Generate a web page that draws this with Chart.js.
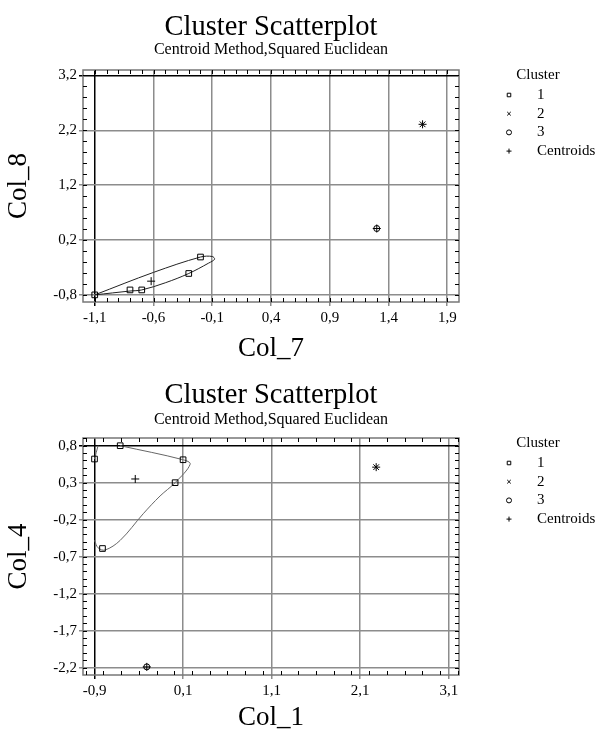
<!DOCTYPE html>
<html>
<head>
<meta charset="utf-8">
<title>Cluster Scatterplot</title>
<script src="https://cdn.jsdelivr.net/npm/chart.js@4.4.1/dist/chart.umd.min.js"></script>
<style>
  body { margin: 0; background: #fff; }
  canvas { display: block; }
</style>
</head>
<body>
<canvas id="plotTop" width="602" height="365"></canvas>
<canvas id="plotBottom" width="602" height="365"></canvas>
<script>
'use strict';

// top plot: Col_7 / Col_8
const topCluster1X = [-1.1, -0.8, -0.7, -0.3, -0.2];
const topCluster1Y = [-0.8, -0.71, -0.71, -0.41, -0.11];
const topCluster2X = [1.69];
const topCluster2Y = [2.31];
const topCluster3X = [1.30];
const topCluster3Y = [0.41];
const topCentroidX = [-0.62, 1.69, 1.30];
const topCentroidY = [-0.55, 2.31, 0.41];
const topOutlineX = [-1.1, -0.6, -0.2, -0.1, -0.08, -0.13, -0.3, -0.5, -0.7, -0.8, -1.1];
const topOutlineY = [-0.8, -0.39, -0.11, -0.1, -0.15, -0.22, -0.41, -0.58, -0.71, -0.73, -0.8];
const topXTicks = [-1.1, -0.6, -0.1, 0.4, 0.9, 1.4, 1.9];
const topYTicks = [-0.8, 0.2, 1.2, 2.2, 3.2];

// bottom plot: Col_1 / Col_4
const botCluster1X = [-0.9, -0.61, 0.1, 0.01, -0.81];
const botCluster1Y = [0.62, 0.8, 0.61, 0.3, -0.59];
const botCluster2X = [2.28];
const botCluster2Y = [0.51];
const botCluster3X = [-0.31];
const botCluster3Y = [-2.19];
const botCentroidX = [-0.44, 2.28, -0.31];
const botCentroidY = [0.35, 0.51, -2.19];
const botOutlineX = [-0.9, -0.86, -0.78, -0.61, -0.35, -0.16, 0.01, 0.18, 0.1, -0.61, -0.73, -0.86, -0.9];
const botOutlineY = [-0.48, -0.58, -0.61, -0.48, -0.12, 0.12, 0.3, 0.55, 0.61, 0.8, null, 0.8, 0.62];
const botXTicks = [-0.9, 0.1, 1.1, 2.1, 3.1];
const botYTicks = [-2.2, -1.7, -1.2, -0.7, -0.2, 0.3, 0.8];

const serif = "'Liberation Serif', 'Times New Roman', serif";

function pairs(xs, ys) {
    return xs.map((x, i) => ({ x: x, y: ys[i] }));
}

function comma(v) {
    return v.toFixed(1).replace('.', ',');
}

// box round the plot and the small inward ticks on all four sides
const plotFrame = {
    id: 'plotFrame',
    afterDatasetsDraw(chart, args, o) {
        const { ctx, chartArea: a, scales } = chart;
        ctx.save();
        ctx.strokeStyle = '#777';
        ctx.lineWidth = 1.5;
        ctx.strokeRect(a.left, a.top, a.right - a.left, a.bottom - a.top);
        ctx.strokeStyle = '#000';
        ctx.lineWidth = 1;
        ctx.beginPath();
        for (let v = Math.ceil(scales.x.min / o.xStep) * o.xStep; v <= scales.x.max; v += o.xStep) {
            const px = Math.round(scales.x.getPixelForValue(v)) + 0.5;
            ctx.moveTo(px, a.bottom); ctx.lineTo(px, a.bottom - 4);
            ctx.moveTo(px, a.top); ctx.lineTo(px, a.top + 4);
        }
        for (let v = Math.ceil(scales.y.min / o.yStep) * o.yStep; v <= scales.y.max; v += o.yStep) {
            const py = Math.round(scales.y.getPixelForValue(v)) + 0.5;
            ctx.moveTo(a.left, py); ctx.lineTo(a.left + 4, py);
            ctx.moveTo(a.right, py); ctx.lineTo(a.right - 4, py);
        }
        ctx.stroke();
        ctx.restore();
    }
};

// the key at the right, built from the marker datasets
const clusterKey = {
    id: 'clusterKey',
    afterDraw(chart, args, o) {
        const { ctx, chartArea: a } = chart;
        ctx.save();
        ctx.font = o.size + 'px ' + serif;
        ctx.textBaseline = 'middle';
        ctx.fillStyle = '#000';
        ctx.textAlign = 'center';
        ctx.fillText('Cluster', a.right + 79, a.top + 5);
        ctx.textAlign = 'left';
        chart.data.datasets.filter(d => !d.showLine).forEach((d, i) => {
            const y = a.top + 25 + i * 18.7;
            ctx.strokeStyle = '#000';
            ctx.fillStyle = 'rgba(0,0,0,0)';
            ctx.lineWidth = 1;
            Chart.helpers.drawPoint(ctx, { pointStyle: d.pointStyle, radius: 2.5, rotation: 0, borderWidth: 1 }, a.right + 50, y);
            ctx.fillStyle = '#000';
            ctx.fillText(d.label, a.right + 78, y);
        });
        ctx.restore();
    }
};

function gridColor(ctx, darkIndex) {
    return ctx.index === darkIndex ? '#000' : '#8c8c8c';
}

function clusterChart(id, d) {
    const marker = { borderColor: '#000', backgroundColor: 'rgba(0,0,0,0)', borderWidth: 1 };
    return new Chart(document.getElementById(id), {
        type: 'scatter',
        data: {
            datasets: [
                Object.assign({ label: '1', data: pairs(d.c1x, d.c1y), pointStyle: 'rect', pointRadius: 4 }, marker),
                Object.assign({ label: '2', data: pairs(d.c2x, d.c2y), pointStyle: 'crossRot', pointRadius: 4 }, marker),
                Object.assign({ label: '3', data: pairs(d.c3x, d.c3y), pointStyle: 'circle', pointRadius: 3 }, marker),
                Object.assign({ label: 'Centroids', data: pairs(d.cx, d.cy), pointStyle: 'cross', pointRadius: 4 }, marker),
                {
                    label: 'outline', data: pairs(d.ox, d.oy), showLine: true, pointRadius: 0,
                    borderColor: d.lineColor, borderWidth: 1, tension: 0.35, spanGaps: false
                }
            ]
        },
        options: {
            responsive: false,
            animation: false,
            layout: { padding: { right: 143 } },
            plugins: {
                legend: { display: false },
                tooltip: { enabled: false },
                title: {
                    display: true, fullSize: false, text: 'Cluster Scatterplot', color: '#000',
                    font: { family: serif, size: 28.5, weight: 'normal', lineHeight: 1 },
                    padding: { top: d.titleTop, bottom: 0 }
                },
                subtitle: {
                    display: true, fullSize: false, text: 'Centroid Method,Squared Euclidean', color: '#000',
                    font: { family: serif, size: 16, weight: 'normal', lineHeight: 1 },
                    padding: { top: d.subTop, bottom: d.subBottom }
                },
                plotFrame: { xStep: d.xStep, yStep: d.yStep },
                clusterKey: { size: 15 }
            },
            scales: {
                x: {
                    type: 'linear', min: d.xMin, max: d.xMax,
                    afterBuildTicks: s => { s.ticks = d.xTicks.map(v => ({ value: v })); },
                    afterFit: s => { s.height = d.xHeight; },
                    border: { display: false },
                    grid: { color: c => gridColor(c, 0), lineWidth: 1.5, tickLength: 4 },
                    ticks: { color: '#000', font: { family: serif, size: 15 }, padding: 3, maxRotation: 0, callback: comma },
                    title: {
                        display: true, text: d.xTitle, color: '#000',
                        font: { family: serif, size: 27, lineHeight: 1 }, padding: { top: 0, bottom: d.xTitleBottom }
                    }
                },
                y: {
                    type: 'linear', min: d.yMin, max: d.yMax,
                    afterBuildTicks: s => { s.ticks = d.yTicks.map(v => ({ value: v })); },
                    afterFit: s => { s.width = 83; },
                    border: { display: false },
                    grid: { color: c => gridColor(c, d.yTicks.length - 1), lineWidth: 1.5, tickLength: 4 },
                    ticks: { color: '#000', font: { family: serif, size: 15 }, padding: 2, callback: comma },
                    title: {
                        display: true, text: d.yTitle, color: '#000',
                        font: { family: serif, size: 27, lineHeight: 1 }, padding: { top: 5, bottom: 0 }
                    }
                }
            }
        },
        plugins: [plotFrame, clusterKey]
    });
}

clusterChart('plotTop', {
    c1x: topCluster1X, c1y: topCluster1Y, c2x: topCluster2X, c2y: topCluster2Y,
    c3x: topCluster3X, c3y: topCluster3Y, cx: topCentroidX, cy: topCentroidY,
    ox: topOutlineX, oy: topOutlineY, lineColor: '#222',
    xTicks: topXTicks, yTicks: topYTicks, xMin: -1.2, xMax: 2.0, yMin: -0.93, yMax: 3.3,
    xStep: 0.1, yStep: 0.2, xTitle: 'Col_7', yTitle: 'Col_8',
    titleTop: 13, subTop: 0, subBottom: 12.5, xHeight: 63, xTitleBottom: 2.5
});

clusterChart('plotBottom', {
    c1x: botCluster1X, c1y: botCluster1Y, c2x: botCluster2X, c2y: botCluster2Y,
    c3x: botCluster3X, c3y: botCluster3Y, cx: botCentroidX, cy: botCentroidY,
    ox: botOutlineX, oy: botOutlineY, lineColor: '#666',
    xTicks: botXTicks, yTicks: botYTicks, xMin: -1.03, xMax: 3.215, yMin: -2.30, yMax: 0.904,
    xStep: 0.2, yStep: 0.1, xTitle: 'Col_1', yTitle: 'Col_4',
    titleTop: 16, subTop: 2, subBottom: 10.5, xHeight: 55, xTitleBottom: -1
});
</script>
</body>
</html>
